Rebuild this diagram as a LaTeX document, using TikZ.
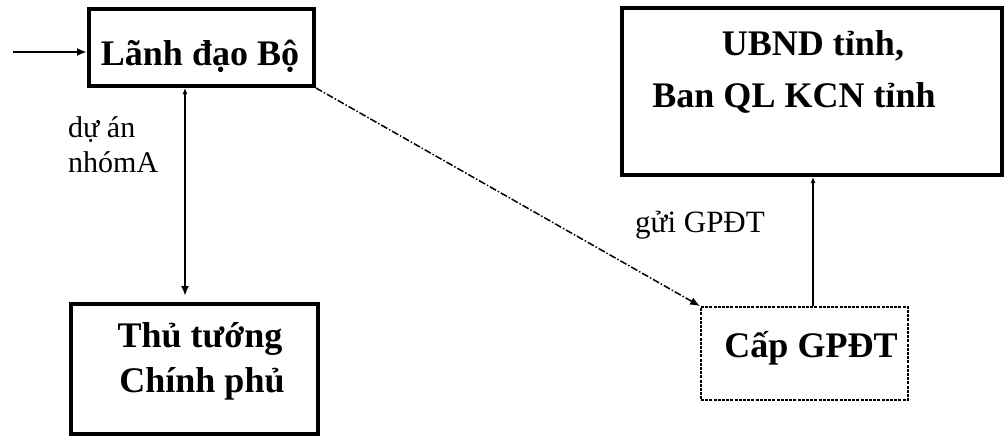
\documentclass[tikz,border=0pt]{standalone}
\usepackage{fontspec}
\setmainfont{Liberation Serif}
\usetikzlibrary{arrows.meta}

\tikzset{
  bigtip/.tip={Latex[length=10pt,width=8pt]},
  smalltip/.tip={Latex[length=6pt,width=5pt]}
}

\begin{document}
\begin{tikzpicture}[x=1pt,y=-1pt,
  thickbox/.style={draw, line width=4pt, inner sep=0pt},
  dotbox/.style={draw, line width=1.8pt, dash pattern=on 3pt off 1.2pt, inner sep=0pt},
  boxtext/.style={font=\fontsize{36}{44}\selectfont\bfseries, anchor=base, inner sep=0pt},
  labeltext/.style={font=\fontsize{30}{35}\selectfont, anchor=base west, inner sep=0pt},
  conn/.style={line width=2pt}]

\useasboundingbox (0,0) rectangle (1007,439);

% boxes
\node[thickbox, minimum width=225pt, minimum height=77pt] (lanh) at (201.5,47.5) {};
\node[thickbox, minimum width=247pt, minimum height=130pt] (thu) at (194.5,369) {};
\node[thickbox, minimum width=380pt, minimum height=167pt] (ubnd) at (812,91.5) {};
\node[dotbox, minimum width=207pt, minimum height=93pt] (cap) at (804.5,353.5) {};

% box texts
\node[boxtext] (tlanh) at (200,65) {Lãnh đạo Bộ};
\node[boxtext] (tthu1) at (200,347) {Thủ tướng};
\node[boxtext] (tthu2) at (202,392) {Chính phủ};
\node[boxtext] (tubnd1) at (813,55) {UBND tỉnh,};
\node[boxtext] (tubnd2) at (794,107) {Ban QL KCN tỉnh};
\node[boxtext] (tcap) at (811,357) {Cấp GPĐT};

% labels
\node[labeltext] (ldu1) at (68,137) {dự án};
\node[labeltext] (ldu2) at (68,172) {nhómA};
\node[labeltext, font=\fontsize{31}{35}\selectfont] (lgui) at (635,232) {gửi GPĐT};

% connectors
\coordinate (src) at (13,52);
\coordinate (vx) at (185,0);
\coordinate (wx) at (813,0);

\draw[conn, -bigtip] (src) -- (src -| lanh.west);
\draw[conn, smalltip-bigtip, shorten >=6pt] (lanh.south -| vx) -- (thu.north -| vx);
\draw[conn, smalltip-] (ubnd.south -| wx) -- (cap.north -| wx);
\draw[line width=1.5pt, dash pattern=on 7pt off 2pt on 1.5pt off 2pt, -bigtip]
  (lanh.south east) -- (cap.north west);
\end{tikzpicture}
\end{document}
